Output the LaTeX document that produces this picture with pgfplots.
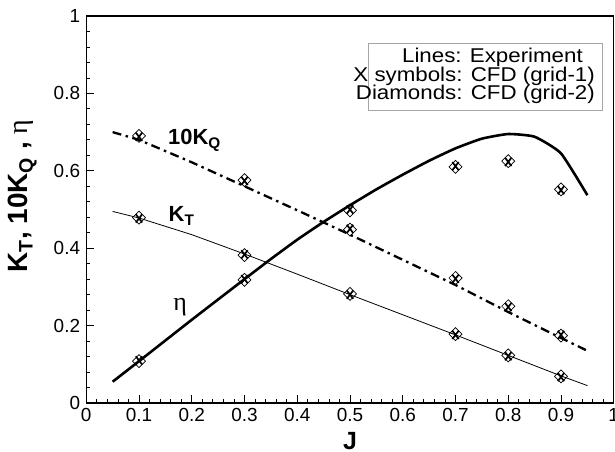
\documentclass[border=0pt]{standalone}
\usepackage{fontspec}
\setmainfont{Liberation Sans}
\newfontfamily\greekfont{Liberation Serif}
\newfontfamily\legendfont[FakeStretch=1.12]{Liberation Sans}
\usepackage{pgfplots}
\pgfplotsset{compat=1.18}
\usepackage{pgfplotstable}

% experiment (lines)
\pgfplotstableread{
J     kt     kq
0.05  0.495  0.700
0.10  0.478  0.680
0.20  0.435  0.622
0.30  0.385  0.560
0.40  0.333  0.498
0.50  0.280  0.435
0.60  0.228  0.370
0.70  0.176  0.305
0.80  0.123  0.235
0.90  0.070  0.168
0.95  0.045  0.135
}\expdata

\pgfplotstableread{
J     eta
0.05  0.055
0.10  0.108
0.20  0.215
0.30  0.320
0.35  0.372
0.40  0.422
0.45  0.468
0.50  0.511
0.55  0.552
0.60  0.590
0.65  0.626
0.70  0.658
0.75  0.683
0.80  0.695
0.85  0.688
0.90  0.645
0.95  0.537
}\etadata

% CFD grid-1 (x) and grid-2 (diamonds)
\pgfplotstableread{
J    kt     kq     eta
0.1  0.477  0.688  0.110
0.3  0.384  0.574  0.320
0.5  0.280  0.450  0.500
0.7  0.176  0.321  0.612
0.8  0.121  0.248  0.623
0.9  0.067  0.176  0.550
}\cfdone
\pgfplotstableread{
J    kt     kq     eta
0.1  0.479  0.690  0.108
0.3  0.382  0.576  0.318
0.5  0.282  0.448  0.498
0.7  0.178  0.323  0.610
0.8  0.123  0.250  0.625
0.9  0.069  0.174  0.552
}\cfdtwo

\begin{document}
\begin{tikzpicture}
\begin{axis}[
  scale only axis,
  width=527.5bp, height=387bp,
  xmin=0, xmax=1, ymin=0, ymax=1,
  xtick={0,0.1,...,1.0}, ytick={0,0.2,...,1.0},
  minor x tick num=4, minor y tick num=4,
  tick align=inside, tick pos=left,
  major tick length=8bp, minor tick length=4bp,
  every tick/.style={black, line width=0.8pt},
  axis line style={black, line width=1.3pt},
  /pgf/number format/assume math mode=true,
  ticklabel style={font=\fontsize{19}{19}\selectfont, inner sep=0pt},
  xticklabel style={anchor=north, yshift=-5bp},
  yticklabel style={anchor=east, xshift=-6bp},
  xlabel={\textbf{J}},
  xlabel style={font=\fontsize{25}{25}\selectfont, at={(axis description cs:0.5,-0.1214)}, anchor=base, inner sep=0pt},
  ylabel={\textbf{K\textsubscript{T}, 10K\textsubscript{Q} , {\greekfont\mdseries η}}},
  ylabel style={font=\fontsize{28}{28}\selectfont, at={(axis description cs:-0.1483,0.535)}, anchor=north, inner sep=0pt},
  clip=false,
]
% experiment
\addplot[black, line width=0.8pt] table[x=J, y=kt] {\expdata};
\addplot[black, line width=2.3pt, dash pattern=on 9bp off 4.5bp on 2.5bp off 4.5bp] table[x=J, y=kq] {\expdata};
\addplot[black, line width=2.6pt, smooth, tension=0.3] table[x=J, y=eta] {\etadata};

% CFD grid-2: diamonds
\foreach \c in {kt,kq,eta}{
  \addplot[only marks, mark=square, mark size=4.6bp, mark options={black, line width=0.7pt, fill=white, rotate=45}] table[x=J, y=\c] {\cfdtwo};
}
% CFD grid-1: x symbols
\foreach \c in {kt,kq,eta}{
  \addplot[only marks, mark=x, mark size=4.5bp, mark options={black, line width=1.7pt, yscale=1.3}] table[x=J, y=\c] {\cfdone};
}

% curve names
\node[anchor=base west, inner sep=0pt, font=\fontsize{22}{22}\selectfont\bfseries] at (axis cs:0.155,0.667) {10K\textsubscript{Q}};
\node[anchor=base west, inner sep=0pt, font=\fontsize{22}{22}\selectfont\bfseries] at (axis cs:0.156,0.468) {K\textsubscript{T}};
\node[anchor=base west, inner sep=0pt, font=\fontsize{26}{26}\selectfont\greekfont] at (axis cs:0.165,0.24) {η};

% legend box
\draw[gray!70, line width=0.8pt] (axis cs:0.5347,0.9295) rectangle (axis cs:0.9783,0.757);
\node[anchor=base east, inner sep=0pt, font=\fontsize{20}{20}\selectfont\legendfont] at (axis cs:0.9417,0.881) {Lines: Experiment};
\node[anchor=base east, inner sep=0pt, font=\fontsize{20}{20}\selectfont\legendfont] at (axis cs:0.9645,0.832) {X symbols: CFD (grid-1)};
\node[anchor=base east, inner sep=0pt, font=\fontsize{20}{20}\selectfont\legendfont] at (axis cs:0.9645,0.785) {Diamonds: CFD (grid-2)};

\coordinate (sw) at (rel axis cs:0,0);
\coordinate (ne) at (rel axis cs:1,1);
\end{axis}
\pgfresetboundingbox
\useasboundingbox ([shift={(-86.25bp,-49bp)}]sw) rectangle ([shift={(1.25bp,16bp)}]ne);
\end{tikzpicture}
\end{document}
